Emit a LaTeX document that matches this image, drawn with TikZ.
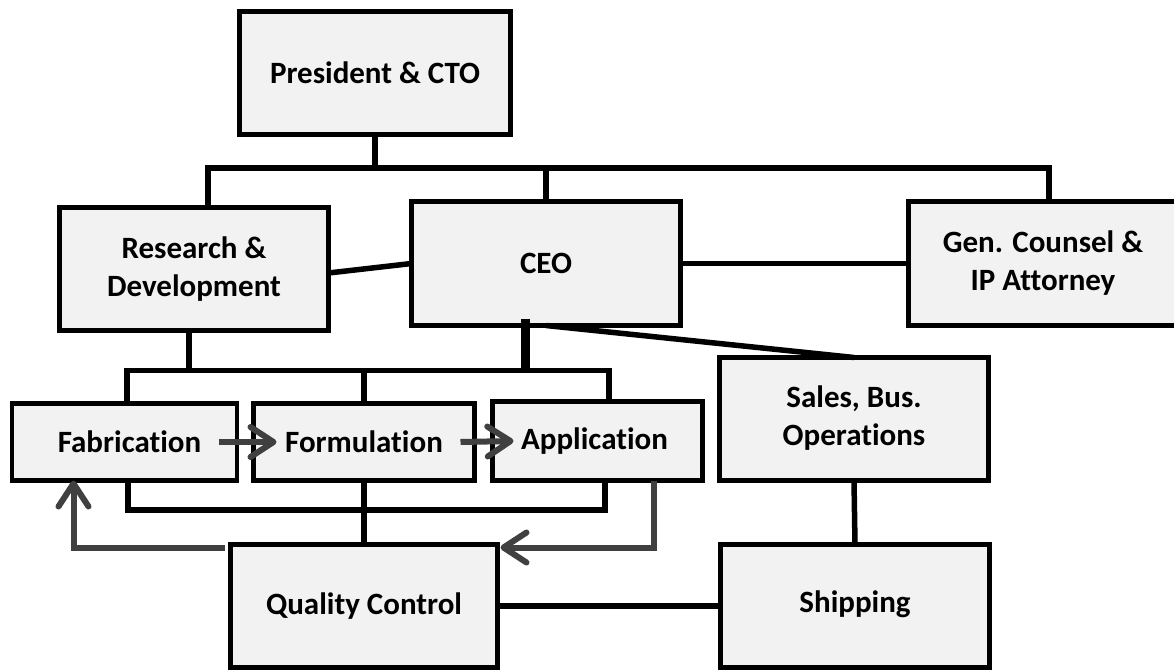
\documentclass[tikz,border=0pt]{standalone}
\usepackage{fontspec}
\setmainfont{Carlito}[Ligatures={NoCommon,NoRare,NoContextual}]
\usetikzlibrary{arrows.meta}
\definecolor{boxfill}{RGB}{242,242,242}
\definecolor{arrowgray}{RGB}{64,64,64}
\tikzset{
  orgbox/.style={draw=black, fill=boxfill, line width=4.5pt, inner sep=0pt, outer sep=0pt,
    align=center, font=\fontsize{31}{38}\selectfont\bfseries},
  conn/.style={draw=black, line width=5.5pt},
  garrow/.style={draw=arrowgray, line width=6pt, line join=miter,
    -{Straight Barb[length=23pt,width=30pt,round]}}
}
\begin{document}
\begin{tikzpicture}[x=1pt,y=-1pt]
\useasboundingbox (0,0) rectangle (1174,671);
% boxes
\node[orgbox, minimum width=271pt, minimum height=123pt] (pres) at (375,73) {President \& CTO};
\node[orgbox, minimum width=269pt, minimum height=123pt] (rd) at (194,269) {Research \&\\Development};
\node[orgbox, minimum width=269pt, minimum height=124pt] (ceo) at (546,263.5) {CEO};
\node[orgbox, minimum width=269pt, minimum height=124pt] (gc) at (1043,263.5) {\raisebox{6pt}{\begin{tabular}{@{}c@{}}Gen. Counsel \&\\IP Attorney\end{tabular}}};
\node[orgbox, minimum width=225pt, minimum height=77pt] (fab) at (124.5,442) {\hspace*{10pt}Fabrication};
\node[orgbox, minimum width=221pt, minimum height=77pt] (form) at (364,442) {Formulation};
\node[orgbox, minimum width=210pt, minimum height=79pt] (app) at (597.5,441) {Application\hspace*{6pt}};
\node[orgbox, minimum width=269pt, minimum height=123pt] (sales) at (854,419) {\raisebox{3pt}{\begin{tabular}{@{}c@{}}Sales, Bus.\\Operations\end{tabular}}};
\node[orgbox, minimum width=267pt, minimum height=123pt] (qc) at (364,606) {\raisebox{5pt}{Quality Control}};
\node[orgbox, minimum width=269pt, minimum height=123pt] (ship) at (855,606) {\raisebox{8pt}{Shipping}};
% junction coordinates
\coordinate (tL) at (208,168);
\coordinate (tR) at (1049,168);
\coordinate (mL) at (127,370.5);
\coordinate (mR) at (609,370.5);
\coordinate (bL) at (128,510);
\coordinate (bR) at (605,510);
% top bracket
\draw[conn] (pres.south) -- (pres.south |- tL);
\draw[conn] (rd.north -| tL) -- (tL) -- (tR) -- (tR |- gc.north);
\draw[conn] (ceo.north) -- (ceo.north |- tL);
% side links
\draw[conn] ([yshift=-4pt]rd.east) -- (ceo.west);
\draw[conn] (ceo.east) -- (gc.west);
\draw[conn] (ceo.south) -- (sales.north);
% middle bracket
\draw[conn] (fab.north -| mL) -- (mL) -- (mR) -- (mR |- app.north);
\draw[conn] (form.north) -- (form.north |- mL);
\draw[conn] ([xshift=-5pt]rd.south) -- ([xshift=-5pt]rd.south |- mL);
\draw[conn, line width=9pt] ([xshift=-21pt,yshift=7pt]ceo.south) -- ([xshift=-21pt]ceo.south |- mL);
% bottom bracket
\draw[conn] (fab.south -| bL) -- (bL) -- (bR) -- (bR |- app.south);
\draw[conn] (form.south) -- (qc.north);
\draw[conn] (sales.south) -- (ship.north);
\draw[conn] (qc.east) -- (ship.west);
% gray flow arrows
\draw[garrow] ([xshift=-18pt]fab.east) -- ([xshift=23pt]form.west);
\draw[garrow] ([xshift=-14pt]form.east) -- ([xshift=21pt]app.west);
\draw[garrow] ([xshift=-6pt,yshift=-3pt]qc.north west) -| ([xshift=-51pt]fab.south);
\draw[garrow] ([xshift=56pt]app.south) |- ([xshift=3pt,yshift=-3pt]qc.north east);
\end{tikzpicture}
\end{document}
